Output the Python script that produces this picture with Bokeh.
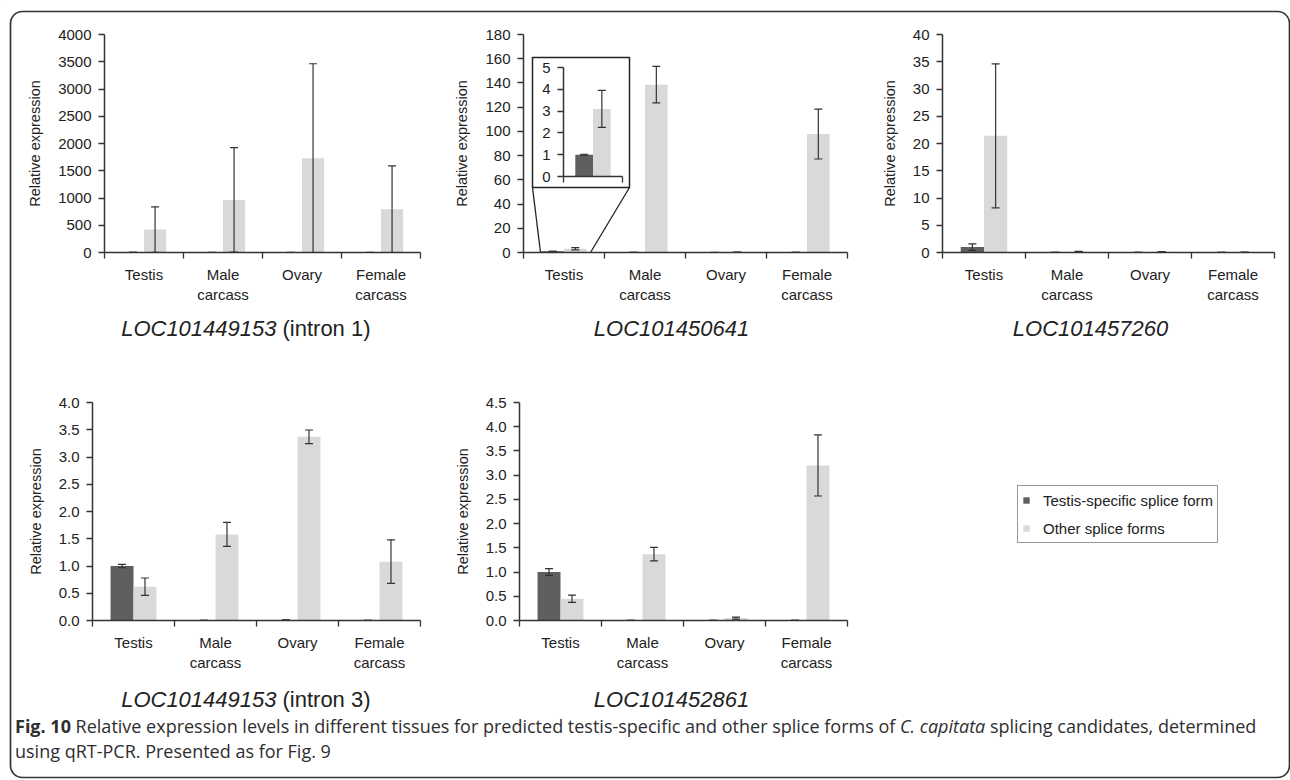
from bokeh.plotting import figure
from bokeh.models import (Range1d, FixedTicker, LinearAxis, Whisker, TeeHead,
                          ColumnDataSource, Legend, LegendItem, Div, NumeralTickFormatter)
from bokeh.embed import file_html
from bokeh.resources import INLINE
from bokeh.core.properties import value

# ---------------- data ----------------
categories = ["Testis", "Male\ncarcass", "Ovary", "Female\ncarcass"]
series_names = ["Testis-specific splice form", "Other splice forms"]
y_label = "Relative expression"

# LOC101449153 (intron 1)
p1_specific = [1.0, 0.5, 0.5, 0.5]
p1_specific_err = [0.5, 0.3, 0.3, 0.3]
p1_other = [421, 965, 1728, 794]
p1_other_err = [416, 959, 1735, 794]
p1_yticks = [0, 500, 1000, 1500, 2000, 2500, 3000, 3500, 4000]

# LOC101450641
p2_specific = [1.0, 0.1, 0.05, 0.1]
p2_specific_err = [0.02, 0.05, 0.03, 0.05]
p2_other = [3.1, 138.6, 0.2, 97.8]
p2_other_err = [0.85, 15.1, 0.1, 20.6]
p2_yticks = [0, 20, 40, 60, 80, 100, 120, 140, 160, 180]
inset_yticks = [0, 1, 2, 3, 4, 5]

# LOC101457260
p3_specific = [1.0, 0.02, 0.02, 0.02]
p3_specific_err = [0.6, 0.01, 0.01, 0.01]
p3_other = [21.4, 0.15, 0.12, 0.06]
p3_other_err = [13.2, 0.05, 0.05, 0.03]
p3_yticks = [0, 5, 10, 15, 20, 25, 30, 35, 40]

# LOC101449153 (intron 3)
p4_specific = [1.0, 0.003, 0.01, 0.003]
p4_specific_err = [0.03, 0.001, 0.003, 0.001]
p4_other = [0.62, 1.58, 3.37, 1.08]
p4_other_err = [0.16, 0.22, 0.125, 0.40]
p4_yticks = [0, 0.5, 1.0, 1.5, 2.0, 2.5, 3.0, 3.5, 4.0]

# LOC101452861
p5_specific = [1.0, 0.003, 0.003, 0.003]
p5_specific_err = [0.07, 0.001, 0.001, 0.001]
p5_other = [0.45, 1.37, 0.05, 3.2]
p5_other_err = [0.075, 0.14, 0.02, 0.63]
p5_yticks = [0, 0.5, 1.0, 1.5, 2.0, 2.5, 3.0, 3.5, 4.0, 4.5]

gene_names = ["LOC101449153", "LOC101450641", "LOC101457260", "LOC101449153", "LOC101452861"]
gene_suffix = ["(intron 1)", "", "", "(intron 3)", ""]

caption_html = ('<b>Fig. 10</b> Relative expression levels in different tissues for predicted '
                'testis-specific and other splice forms of <i>C. capitata</i> splicing candidates, '
                'determined<br>using qRT-PCR. Presented as for Fig. 9')

# ---------------- style ----------------
FONT = "Liberation Sans"
DARK = "#5f5f5f"
LIGHT = "#d9d9d9"
INK = "#333333"
TXT = "#222222"


def style_axis(ax):
    ax.axis_line_color = INK
    ax.axis_line_width = 1.5
    ax.major_tick_line_color = INK
    ax.major_tick_line_width = 1.3
    ax.major_tick_out = 6
    ax.major_tick_in = 0
    ax.minor_tick_line_color = INK
    ax.minor_tick_line_width = 1.3
    ax.minor_tick_out = 6
    ax.minor_tick_in = 0
    ax.major_label_text_font = FONT
    ax.major_label_text_font_size = "15px"
    ax.major_label_text_color = TXT
    ax.major_label_standoff = 7
    ax.axis_label_text_font = FONT
    ax.axis_label_text_font_size = "14.5px"
    ax.axis_label_text_font_style = "normal"
    ax.axis_label_text_color = TXT
    ax.axis_label_standoff = 12


def panel(pos, frame_w, frame_h, ymax, yticks, spec, spec_err, oth, oth_err,
          cats=categories, fmt=None, bw=0.28, borders=(85, 12, 10, 60),
          show_xlabels=True, axis_label=y_label):
    left, right, top, bottom = borders
    n = len(spec)
    p = figure(width=left + frame_w + right, height=top + frame_h + bottom,
               min_border_left=left, min_border_right=right,
               min_border_top=top, min_border_bottom=bottom,
               x_range=Range1d(0, n), y_range=Range1d(0, ymax),
               x_axis_type=None, y_axis_type=None,
               toolbar_location=None, output_backend="svg",
               background_fill_color=None, border_fill_color=None,
               outline_line_color=None)
    centers = [i + 0.5 for i in range(n)]
    groups = [([c - bw / 2 for c in centers], spec, spec_err, DARK),
              ([c + bw / 2 for c in centers], oth, oth_err, LIGHT)]
    for xs, vals, errs, color in groups:
        src = ColumnDataSource(dict(
            x=xs, top=vals,
            upper=[v + e for v, e in zip(vals, errs)],
            lower=[v - e for v, e in zip(vals, errs)]))
        p.vbar(x="x", top="top", bottom=0, width=bw, source=src,
               fill_color=color, line_color=None)
        p.add_layout(Whisker(base="x", upper="upper", lower="lower", source=src,
                             dimension="height", line_color=INK, line_width=1.2,
                             level="annotation",
                             upper_head=TeeHead(size=8, line_color=INK, line_width=1.2),
                             lower_head=TeeHead(size=8, line_color=INK, line_width=1.2)))
    xa = LinearAxis(ticker=FixedTicker(ticks=centers if show_xlabels else [],
                                       minor_ticks=list(range(n + 1))))
    style_axis(xa)
    xa.major_tick_line_color = None
    if show_xlabels:
        xa.major_label_overrides = {c: lab for c, lab in zip(centers, cats)}
    ya = LinearAxis(ticker=FixedTicker(ticks=yticks), axis_label=axis_label)
    style_axis(ya)
    if fmt:
        ya.formatter = NumeralTickFormatter(format=fmt)
    p.add_layout(ya, "left")
    p.add_layout(xa, "below")
    p.styles = {"position": "absolute", "left": f"{pos[0]}px", "top": f"{pos[1]}px"}
    return p


# ---------------- background canvas (frame, titles, inset box, legend) ----------------
bg = figure(width=1290, height=780, x_range=Range1d(0, 1290), y_range=Range1d(780, 0),
            min_border_left=0, min_border_right=0, min_border_top=0, min_border_bottom=0,
            x_axis_type=None, y_axis_type=None, outline_line_color=None,
            toolbar_location=None, output_backend="svg")
bg.styles = {"position": "absolute", "left": "0px", "top": "0px"}

try:
    bg.quad(left=[10], right=[1289], top=[11], bottom=[777], fill_color=None,
            line_color=INK, line_width=1.7, border_radius=12)
except Exception:
    bg.quad(left=[10], right=[1289], top=[11], bottom=[777], fill_color=None,
            line_color=INK, line_width=1.7)

# inset box and zoom connectors
bg.quad(left=[532], right=[629], top=[57], bottom=[187], fill_color="white",
        line_color="#222222", line_width=1.5)
bg.segment(x0=[532, 629], y0=[187, 187], x1=[540, 590], y1=[252, 252],
           line_color="#222222", line_width=1.3)

# titles
ital = dict(text_font=value(FONT), text_font_size=value("22px"), text_font_style="italic",
            text_color=TXT, text_baseline="middle")
norm = dict(text_font=value(FONT), text_font_size=value("22px"), text_font_style="normal",
            text_color=TXT, text_baseline="middle")
bg.text(x=[276, 276], y=[328, 699], text=[gene_names[0], gene_names[3]], text_align="right", **ital)
bg.text(x=[282, 282], y=[328, 699], text=[gene_suffix[0], gene_suffix[3]], text_align="left", **norm)
bg.text(x=[671, 1090, 671], y=[328, 328, 699], text=[gene_names[1], gene_names[2], gene_names[4]],
        text_align="center", **ital)

# legend swatches (kept off-canvas; they only provide the legend glyph style)
sw_dark = bg.vbar(x=[-100], top=[-100], bottom=[-110], width=1, fill_color=DARK, line_color=None)
sw_light = bg.vbar(x=[-100], top=[-100], bottom=[-110], width=1, fill_color=LIGHT, line_color=None)
legend = Legend(items=[LegendItem(label=series_names[0], renderers=[sw_dark]),
                       LegendItem(label=series_names[1], renderers=[sw_light])],
                location=(1017, 237), orientation="vertical",
                label_text_font=FONT, label_text_font_size="15px", label_text_color=TXT,
                glyph_width=8, glyph_height=8, label_height=20, label_standoff=13,
                spacing=8, padding=4, margin=0,
                border_line_color=INK, border_line_width=1.6,
                background_fill_color="white", background_fill_alpha=1.0)
bg.add_layout(legend)

# ---------------- panels ----------------
f1 = panel((19, 24), 316, 218, 4000, p1_yticks, p1_specific, p1_specific_err, p1_other, p1_other_err)
f2 = panel((438, 24), 324, 218, 180, p2_yticks, p2_specific, p2_specific_err, p2_other, p2_other_err)
f3 = panel((857, 24), 332, 218, 40, p3_yticks, p3_specific, p3_specific_err, p3_other, p3_other_err)
f4 = panel((7, 392), 328, 218, 4.0, p4_yticks, p4_specific, p4_specific_err, p4_other, p4_other_err,
           fmt="0.0")
f5 = panel((434, 392), 328, 218, 4.5, p5_yticks, p5_specific, p5_specific_err, p5_other,
           p5_other_err, fmt="0.0")
inset = panel((532, 57), 59, 109, 5, inset_yticks, p2_specific[:1], p2_specific_err[:1],
              p2_other[:1], p2_other_err[:1], cats=categories[:1], bw=0.3,
              borders=(31, 7, 10, 11), show_xlabels=False, axis_label=None)

cap = Div(text=('<div style="font-family:\'Open Sans\'; font-size:18px; line-height:24.5px; '
                'color:#2e2e2e; white-space:nowrap; margin:0; padding:0;">' + caption_html + '</div>'),
          width=1270, height=52, margin=(0, 0, 0, 0))
cap.styles = {"position": "absolute", "left": "15px", "top": "714px"}

roots = [bg, f1, f2, f3, f4, f5, inset, cap]
open("out.html", "w").write(file_html(roots, INLINE))
